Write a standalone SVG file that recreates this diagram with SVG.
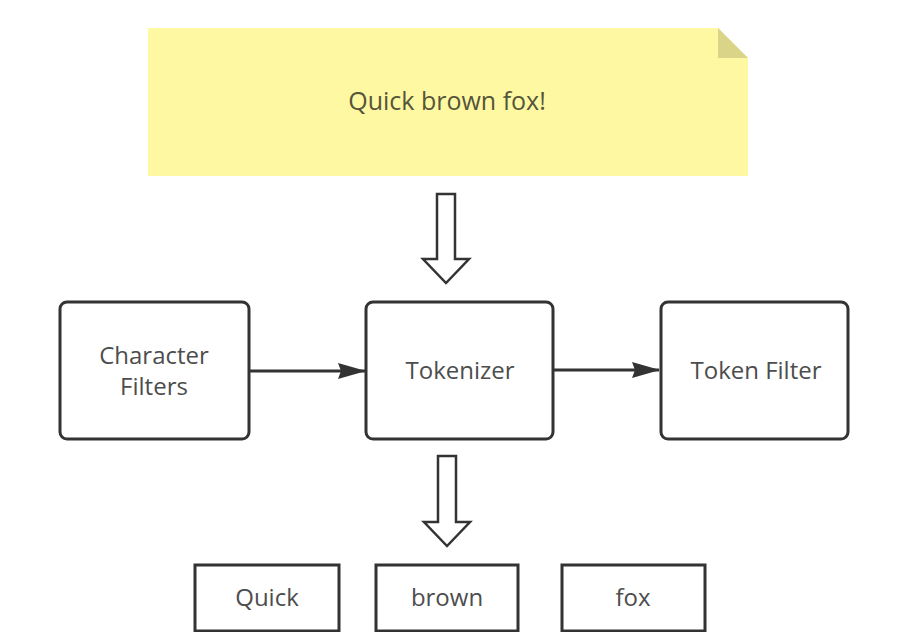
<svg xmlns="http://www.w3.org/2000/svg" width="915" height="632" viewBox="0 0 915 632">
<defs>
<marker id="ah" markerWidth="28" markerHeight="18" refX="27" refY="9" orient="auto" markerUnits="userSpaceOnUse" viewBox="0 0 28 18">
<path d="M0,1 L28,9 L0,17 L3,9 Z" fill="#333"/>
</marker>
</defs>
<style>
.lbl{font-family:"Open Sans","Noto Sans","Liberation Sans",sans-serif;font-size:24px;fill:#4d4d4d;text-anchor:middle}
.box{fill:#fff;stroke:#333;stroke-width:3}
.hollow{fill:#fff;stroke:#333;stroke-width:2.5;stroke-linejoin:miter}
.conn{stroke:#333;stroke-width:3;fill:none}
</style>
<rect width="915" height="632" fill="#fff"/>
<g id="note">
<path d="M148,28 H718 L748,58 V176 H148 Z" fill="#fff8a3"/>
<path d="M718,28 L748,58 H718 Z" fill="#d9d487"/>
<text class="lbl" x="447" y="110" style="font-size:25px;fill:#55553a">Quick brown fox!</text>
</g>
<g id="char-filters">
<rect class="box" x="60" y="302" width="189" height="137" rx="7"/>
<text class="lbl" x="154" y="364">Character</text>
<text class="lbl" x="154" y="395">Filters</text>
</g>
<g id="tokenizer">
<rect class="box" x="366" y="302" width="187" height="137" rx="7"/>
<text class="lbl" x="460" y="379">Tokenizer</text>
</g>
<g id="token-filter">
<rect class="box" x="661" y="302" width="187" height="137" rx="7"/>
<text class="lbl" x="756" y="379">Token Filter</text>
</g>
<g id="tok-quick">
<rect class="box" x="195" y="565" width="144" height="66"/>
<text class="lbl" x="267" y="606">Quick</text>
</g>
<g id="tok-brown">
<rect class="box" x="376" y="565" width="142" height="66"/>
<text class="lbl" x="447" y="606">brown</text>
</g>
<g id="tok-fox">
<rect class="box" x="562" y="565" width="143" height="66"/>
<text class="lbl" x="633" y="606">fox</text>
</g>
<g id="connectors">
<path class="hollow" d="M437,194 H455 V259 H469 L446,283 L423,259 H437 Z"/>
<path class="hollow" d="M438,456 H456 V522 H470 L447,546 L424,522 H438 Z"/>
<line class="conn" x1="249" y1="371" x2="365" y2="371" marker-end="url(#ah)"/>
<line class="conn" x1="553" y1="370" x2="659" y2="370" marker-end="url(#ah)"/>
</g>
</svg>
